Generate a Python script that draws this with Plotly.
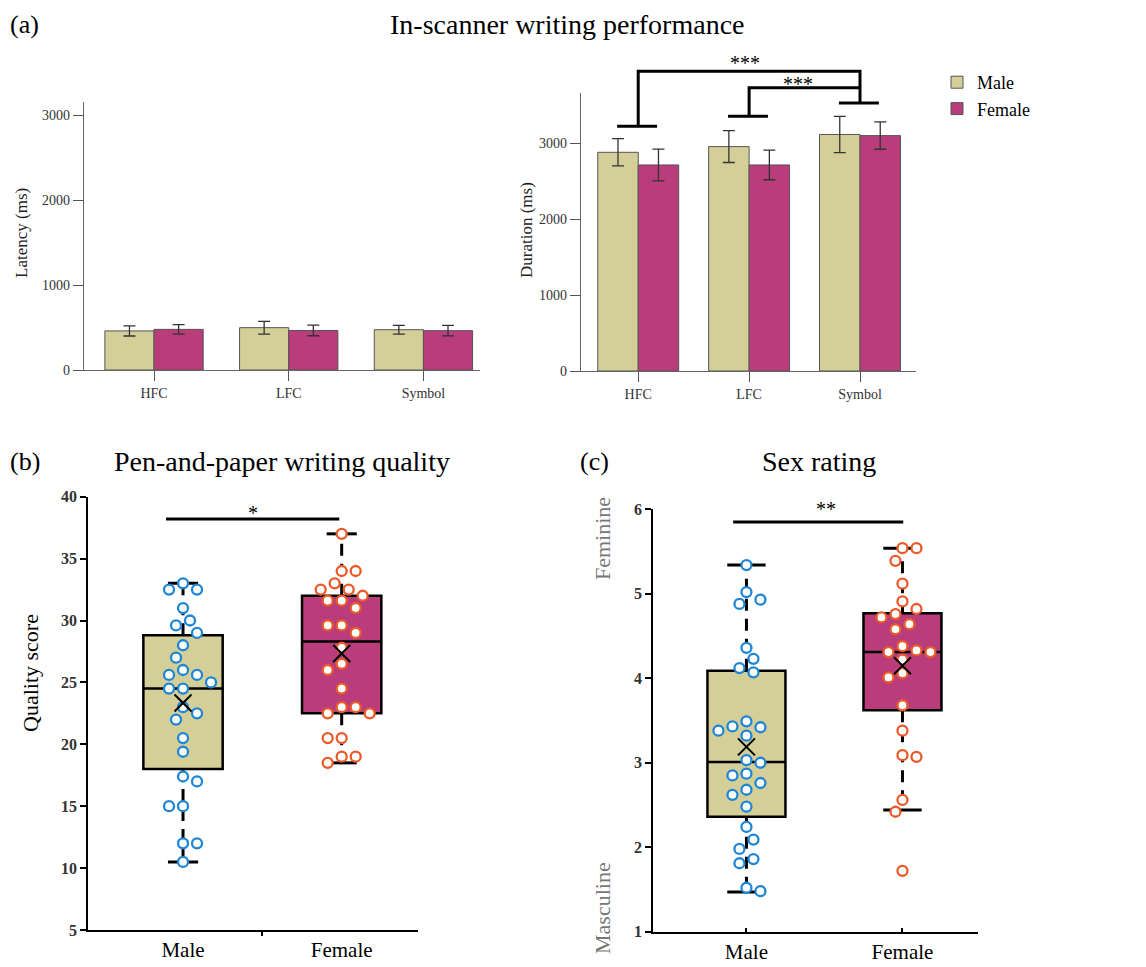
import numpy as np
import plotly.graph_objects as go

FONT = "Liberation Serif"
W, H = 1146, 967

# ---------------- data ----------------
conditions = ["HFC", "LFC", "Symbol"]
latency_male = [460, 498, 474]
latency_male_err = [60, 75, 52]
latency_female = [478, 465, 463]
latency_female_err = [55, 62, 62]

duration_male = [2885, 2960, 3120]
duration_male_err = [180, 210, 240]
duration_female = [2718, 2718, 3105]
duration_female_err = [210, 195, 180]

groups = ["Male", "Female"]

quality_male = [33.0, 32.5, 32.5, 31.0, 30.0, 29.6, 29.0, 28.0, 27.0, 26.0, 25.6, 25.6,
                25.0, 24.5, 24.5, 23.0, 22.5, 22.0, 20.5, 19.4, 17.4, 17.0, 15.0, 15.0,
                12.0, 12.0, 10.5]
quality_female = [37.0, 34.0, 34.0, 33.0, 32.5, 32.5, 32.0, 31.6, 31.6, 31.0, 29.6, 29.6,
                  29.0, 27.8, 26.5, 26.0, 24.5, 23.0, 23.0, 22.5, 22.5, 20.5, 20.5, 19.0,
                  19.0, 18.5]
quality_q1 = [18.0, 22.5]
quality_median = [24.5, 28.3]
quality_q3 = [28.8, 32.0]
quality_lower = [10.5, 18.5]
quality_upper = [33.0, 37.0]

sex_male = [5.34, 5.02, 4.93, 4.88, 4.36, 4.23, 4.12, 4.07, 3.49, 3.38, 3.42, 3.43, 3.32,
            3.00, 3.03, 2.87, 2.85, 2.76, 2.68, 2.62, 2.48, 2.24, 2.09, 1.98, 1.86, 1.81,
            1.52, 1.48]
sex_female = [5.54, 5.54, 5.39, 5.12, 4.91, 4.82, 4.76, 4.72, 4.64, 4.58, 4.38, 4.33, 4.31,
              4.31, 4.22, 4.06, 4.01, 3.68, 3.38, 3.07, 3.09, 2.56, 2.42, 1.72]
sex_q1 = [2.36, 3.62]
sex_median = [3.01, 4.31]
sex_q3 = [4.09, 4.77]
sex_lower = [1.47, 2.44]
sex_upper = [5.34, 5.54]

# ---------------- styles / layout geometry ----------------
MALE = "#d4cf98"
FEMALE = "#b93c7b"
BLUE = "#1f86d6"
ORANGE = "#ea5a2a"

dom_lat_x = [84 / W, 480 / W]
dom_lat_y = [1 - 370 / H, 1 - 102 / H]
rng_lat_x = [-0.52, 2.42]
rng_lat_y = [0, 3153]

dom_dur_x = [581 / W, 916 / W]
dom_dur_y = [1 - 371 / H, 1 - 92.7 / H]
rng_dur_x = [-0.516, 2.505]
rng_dur_y = [0, 3671]

dom_q_x = [88.3 / W, 418 / W]
dom_q_y = [1 - 930 / H, 1 - 496.7 / H]
rng_q_x = [-0.597, 1.481]
rng_q_y = [5, 40]

dom_s_x = [653.3 / W, 978.3 / W]
dom_s_y = [1 - 931.7 / H, 1 - 509.3 / H]
rng_s_x = [-0.597, 1.486]
rng_s_y = [1, 6]


def px_scale(dom, rng, size):
    return (dom[1] - dom[0]) * size / (rng[1] - rng[0])


def swarm_offsets(vals, px_y, px_x, diam=13.0, step=7.0):
    vals = np.asarray(vals, dtype=float)
    order = np.argsort(-vals, kind="stable")
    placed = []
    offs = np.zeros(len(vals))
    toggle = 1
    for idx in order:
        y = vals[idx] * px_y
        chosen = 0.0
        for k in range(0, 30):
            cands = [0.0] if k == 0 else [toggle * k * step, -toggle * k * step]
            ok = [c for c in cands
                  if all((c - px) ** 2 + (y - py) ** 2 >= diam ** 2 for px, py in placed)]
            if ok:
                chosen = ok[0]
                if chosen != 0:
                    toggle = -int(np.sign(chosen))
                break
        placed.append((chosen, y))
        offs[idx] = chosen / px_x
    return offs


fig = go.Figure()

# ---------------- (a) bar charts ----------------
for xa, ya, m, me, f, fe, show in [
    ("x", "y", latency_male, latency_male_err, latency_female, latency_female_err, True),
    ("x2", "y2", duration_male, duration_male_err, duration_female, duration_female_err, False),
]:
    fig.add_trace(go.Bar(
        x=conditions, y=m, name="Male", legendgroup="Male", showlegend=show,
        marker=dict(color=MALE, line=dict(color="#555", width=1)),
        error_y=dict(type="data", array=me, color="#333", thickness=1.3, width=6),
        xaxis=xa, yaxis=ya, offsetgroup="m" + xa))
    fig.add_trace(go.Bar(
        x=conditions, y=f, name="Female", legendgroup="Female", showlegend=show,
        marker=dict(color=FEMALE, line=dict(color="#555", width=1)),
        error_y=dict(type="data", array=fe, color="#333", thickness=1.3, width=6),
        xaxis=xa, yaxis=ya, offsetgroup="f" + xa))

# ---------------- (b),(c) box plots ----------------
def add_box_panel(xa, ya, data_lists, q1, med, q3, lo, up, dom_x, rng_x, dom_y, rng_y, cap):
    px_x = px_scale(dom_x, rng_x, W)
    px_y = px_scale(dom_y, rng_y, H)
    fills = [MALE, FEMALE]
    edges = [BLUE, ORANGE]
    for i in range(2):
        fig.add_trace(go.Box(
            x=[i], q1=[q1[i]], median=[med[i]], q3=[q3[i]],
            lowerfence=[q1[i]], upperfence=[q3[i]], width=0.5, whiskerwidth=0,
            fillcolor=fills[i], line=dict(color="black", width=2.5),
            boxpoints=False, showlegend=False, hoverinfo="skip",
            xaxis=xa, yaxis=ya))
        # dashed whiskers
        fig.add_trace(go.Scatter(
            x=[i, i, None, i, i], y=[q3[i], up[i], None, q1[i], lo[i]],
            mode="lines", line=dict(color="black", width=3, dash="12px,8px"),
            showlegend=False, hoverinfo="skip", xaxis=xa, yaxis=ya))
        # caps
        fig.add_trace(go.Scatter(
            x=[i - cap, i + cap, None, i - cap, i + cap],
            y=[up[i], up[i], None, lo[i], lo[i]],
            mode="lines", line=dict(color="black", width=3),
            showlegend=False, hoverinfo="skip", xaxis=xa, yaxis=ya))
        vals = data_lists[i]
        offs = swarm_offsets(vals, px_y, px_x)
        fig.add_trace(go.Scatter(
            x=i + offs, y=vals, mode="markers",
            marker=dict(symbol="circle", size=10, color="white",
                        line=dict(color=edges[i], width=2.3)),
            showlegend=False, xaxis=xa, yaxis=ya))
        fig.add_trace(go.Scatter(
            x=[i], y=[float(np.mean(vals))], mode="markers",
            marker=dict(symbol="x-thin", size=17, line=dict(color="black", width=2)),
            showlegend=False, xaxis=xa, yaxis=ya))


add_box_panel("x3", "y3", [quality_male, quality_female], quality_q1, quality_median,
              quality_q3, quality_lower, quality_upper, dom_q_x, rng_q_x, dom_q_y, rng_q_y, 0.095)
add_box_panel("x4", "y4", [sex_male, sex_female], sex_q1, sex_median,
              sex_q3, sex_lower, sex_upper, dom_s_x, rng_s_x, dom_s_y, rng_s_y, 0.123)

# ---------------- axes ----------------
top_tick = dict(family=FONT, size=14, color="#333")
top_x = dict(showline=True, linecolor="#666", linewidth=1.3, ticks="outside", ticklen=10,
             tickcolor="#555", tickwidth=1.3, tickfont=top_tick, showgrid=False,
             zeroline=False, fixedrange=True, automargin=False)
top_y = dict(showline=True, linecolor="#666", linewidth=1.3, ticks="outside", ticklen=10,
             tickcolor="#555", tickwidth=1.3, tickfont=top_tick, showgrid=False,
             zeroline=False, tickvals=[0, 1000, 2000, 3000], fixedrange=True, automargin=False)

bot_x = dict(showline=True, linecolor="black", linewidth=2, showgrid=False, zeroline=False,
             tickvals=[0, 1], ticktext=groups, tickfont=dict(family=FONT, size=21, color="black"),
             fixedrange=True, automargin=False)
bot_y = dict(showline=True, linecolor="black", linewidth=2, showgrid=False, zeroline=False,
             ticks="outside", ticklen=6, tickwidth=2, tickcolor="black",
             tickfont=dict(family=FONT, size=16, color="#333", weight="bold"), fixedrange=True,
             automargin=False)

fig.update_layout(
    width=W, height=H, autosize=False,
    margin=dict(l=0, r=0, t=0, b=0, pad=0, autoexpand=False),
    paper_bgcolor="white", plot_bgcolor="white",
    barmode="group", bargap=0.27, bargroupgap=0,
    font=dict(family=FONT, color="black"),
    xaxis=dict(domain=dom_lat_x, range=rng_lat_x, anchor="y", **top_x),
    yaxis=dict(domain=dom_lat_y, range=rng_lat_y, anchor="x", **top_y),
    xaxis2=dict(domain=dom_dur_x, range=rng_dur_x, anchor="y2", **top_x),
    yaxis2=dict(domain=dom_dur_y, range=rng_dur_y, anchor="x2", **top_y),
    xaxis3=dict(domain=dom_q_x, range=rng_q_x, anchor="y3", ticks="", ticklabelstandoff=0,
                minor=dict(tickvals=[0.5], ticks="outside", ticklen=4, tickwidth=2,
                           tickcolor="black"), **bot_x),
    yaxis3=dict(domain=dom_q_y, range=rng_q_y, anchor="x3", tickvals=list(range(5, 41, 5)), **bot_y),
    xaxis4=dict(domain=dom_s_x, range=rng_s_x, anchor="y4", ticks="inside", ticklen=4,
                tickwidth=2, tickcolor="black", ticklabelstandoff=0, **bot_x),
    yaxis4=dict(domain=dom_s_y, range=rng_s_y, anchor="x4", tickvals=[1, 2, 3, 4, 5, 6], **bot_y),
    legend=dict(x=937 / W, y=1 - 64 / H, xanchor="left", yanchor="top",
                font=dict(family=FONT, size=18, color="black"), bgcolor="rgba(0,0,0,0)",
                traceorder="normal"),
)

# ---------------- significance brackets (a) ----------------
def y2p(v):
    return dom_dur_y[0] + (v - rng_dur_y[0]) / (rng_dur_y[1] - rng_dur_y[0]) * (dom_dur_y[1] - dom_dur_y[0])


sig_levels = [3228, 3360, 3536]
outer_top = 3954
inner_top = 3737
blk = dict(color="black", width=3)
for i, lvl in enumerate(sig_levels):
    fig.add_shape(type="line", xref="x2", yref="paper", x0=i - 0.19, x1=i + 0.17,
                  y0=y2p(lvl), y1=y2p(lvl), line=blk)
fig.add_shape(type="path", xref="x2", yref="paper",
              path=f"M 0,{y2p(sig_levels[0])} L 0,{y2p(outer_top)} L 2,{y2p(outer_top)} L 2,{y2p(sig_levels[2])}",
              line=blk)
fig.add_shape(type="path", xref="x2", yref="paper",
              path=f"M 1,{y2p(sig_levels[1])} L 1,{y2p(inner_top)} L 2,{y2p(inner_top)}",
              line=blk)

# significance lines (b), (c)
fig.add_shape(type="line", xref="x3", yref="y3", x0=-0.107, x1=0.985, y0=38.2, y1=38.2, line=blk)
fig.add_shape(type="line", xref="x4", yref="y4", x0=-0.085, x1=1.005, y0=5.85, y1=5.85, line=blk)

ann = []
star_font = dict(family=FONT, size=20, color="black")
ann.append(dict(text="***", x=0.96, xref="x2", y=1 - 63 / H, yref="paper", showarrow=False,
                yanchor="middle", font=star_font))
ann.append(dict(text="***", x=1.445, xref="x2", y=1 - 84 / H, yref="paper", showarrow=False,
                yanchor="middle", font=star_font))
ann.append(dict(text="*", x=0.44, xref="x3", y=38.7, yref="y3", showarrow=False, font=star_font))
ann.append(dict(text="**", x=0.51, xref="x4", y=6.0, yref="y4", showarrow=False, font=star_font))

# titles
def pann(text, x, y, size, xanchor="center", angle=0, color="black"):
    return dict(text=text, x=x / W, y=1 - y / H, xref="paper", yref="paper", showarrow=False,
                xanchor=xanchor, yanchor="middle", textangle=angle,
                font=dict(family=FONT, size=size, color=color))


ann += [
    pann("(a)", 8, 24, 26, "left"),
    pann("In-scanner writing performance", 567, 24, 28),
    pann("(b)", 8, 462, 26, "left"),
    pann("Pen-and-paper writing quality", 282, 462, 28),
    pann("(c)", 578, 462, 26, "left"),
    pann("Sex rating", 819, 462, 28),
    pann("Latency (ms)", 21, 233, 17, angle=-90, color="#222"),
    pann("Duration (ms)", 527, 230, 17, angle=-90, color="#222"),
    pann("Quality score", 30, 673, 22, angle=-90),
    pann("Feminine", 602, 539, 22, angle=-90, color="#777"),
    pann("Masculine", 602, 908, 22, angle=-90, color="#777"),
]
fig.update_layout(annotations=ann)

fig.write_html("out.html",
               post_script="document.body.style.margin='0';document.body.style.padding='0';")
